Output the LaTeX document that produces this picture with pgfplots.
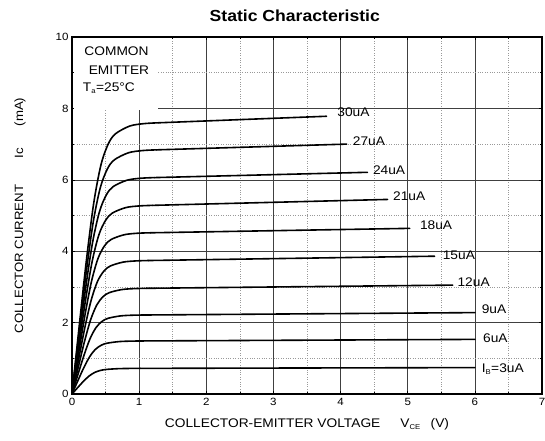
\documentclass[border=0pt]{standalone}
\usepackage{fontspec}
\setmainfont{Liberation Sans}[FakeStretch=1.1]
\usepackage{pgfplots}
\pgfplotsset{compat=1.18}
\begin{document}
\begin{tikzpicture}
\begin{axis}[
  scale only axis, width=470pt, height=357pt,
  xmin=0, xmax=7, ymin=0, ymax=10,
  xtick={0,...,7}, ytick={0,2,...,10},
  minor x tick num=1, minor y tick num=1,
  grid=both,
  major grid style={black!75, line width=0.6pt},
  minor grid style={black!40, dotted, line width=0.6pt},
  axis line style={line width=1.2pt},
  tick align=inside, major tick length=3pt, minor tick length=2pt,
  tick style={black, line width=0.5pt},
  ticklabel style={font=\fontsize{10.5}{12}\selectfont},
  xticklabel style={yshift=-1pt},
  /pgf/number format/assume math mode=true,
  xlabel={COLLECTOR-EMITTER VOLTAGE\hspace{1.6em}V\textsubscript{\fontsize{7}{8}\selectfont CE}\hspace{0.8em}(V)},
  ylabel={COLLECTOR CURRENT\hspace{2.2em}Ic\hspace{1.8em}(mA)},
  x label style={at={(axis description cs:0.5,-0.084)}, anchor=center, font=\fontsize{12.5}{14}\selectfont},
  y label style={at={(axis description cs:-0.1106,0.5)}, anchor=center, font=\fontsize{12}{14}\selectfont},
  cycle list={{black}},
  every axis plot/.append style={black, line width=1.6pt, no marks, line cap=round},
  clip=false,
]
\coordinate (o) at (rel axis cs:0,0);
% Ib = 3uA
\addplot[smooth, tension=0.5] coordinates {(0,0) (0.085,0.18) (0.17,0.355) (0.255,0.504) (0.34,0.606) (0.425,0.661) (0.51,0.688) (0.68,0.709) (0.85,0.716) (1.02,0.718)};
\addplot[black] coordinates {(1.02,0.718) (6.0,0.74)};
% 6uA
\addplot[smooth, tension=0.5] coordinates {(0,0) (0.0875,0.373) (0.175,0.734) (0.2625,1.043) (0.35,1.253) (0.4375,1.368) (0.525,1.424) (0.70,1.468) (0.875,1.481) (1.05,1.486)};
\addplot[black] coordinates {(1.05,1.486) (6.0,1.53)};
% 9uA
\addplot[smooth, tension=0.5] coordinates {(0,0) (0.09,0.555) (0.18,1.093) (0.27,1.554) (0.36,1.867) (0.45,2.038) (0.54,2.122) (0.72,2.187) (0.90,2.207) (1.08,2.213)};
\addplot[black] coordinates {(1.08,2.213) (6.0,2.28)};
% 12uA
\addplot[smooth, tension=0.5] coordinates {(0,0) (0.0925,0.743) (0.185,1.463) (0.2775,2.079) (0.37,2.498) (0.4625,2.726) (0.555,2.839) (0.74,2.925) (0.925,2.952) (1.11,2.961)};
\addplot[black] coordinates {(1.11,2.961) (5.67,3.05)};
% 15uA
\addplot[smooth, tension=0.5] coordinates {(0,0) (0.095,0.938) (0.19,1.847) (0.285,2.625) (0.38,3.154) (0.475,3.443) (0.57,3.585) (0.76,3.694) (0.95,3.728) (1.14,3.739)};
\addplot[black] coordinates {(1.14,3.739) (5.4,3.86)};
% 18uA
\addplot[smooth, tension=0.5] coordinates {(0,0) (0.0975,1.133) (0.195,2.231) (0.2925,3.171) (0.39,3.810) (0.4875,4.159) (0.585,4.331) (0.78,4.462) (0.975,4.503) (1.17,4.516)};
\addplot[black] coordinates {(1.17,4.516) (5.03,4.64)};
% 21uA
\addplot[smooth, tension=0.5] coordinates {(0,0) (0.1,1.325) (0.2,2.610) (0.3,3.710) (0.4,4.457) (0.5,4.865) (0.6,5.067) (0.8,5.221) (1.0,5.268) (1.2,5.284)};
\addplot[black] coordinates {(1.2,5.284) (4.7,5.45)};
% 24uA
\addplot[smooth, tension=0.5] coordinates {(0,0) (0.1025,1.52) (0.205,2.994) (0.3075,4.256) (0.41,5.113) (0.5125,5.581) (0.615,5.812) (0.82,5.989) (1.025,6.044) (1.23,6.062)};
\addplot[black] coordinates {(1.23,6.062) (4.4,6.21)};
% 27uA
\addplot[smooth, tension=0.5] coordinates {(0,0) (0.105,1.715) (0.21,3.379) (0.315,4.802) (0.42,5.769) (0.525,6.297) (0.63,6.558) (0.84,6.757) (1.05,6.819) (1.26,6.839)};
\addplot[black] coordinates {(1.26,6.839) (4.09,7.0)};
% 30uA
\addplot[smooth, tension=0.5] coordinates {(0,0) (0.1075,1.905) (0.215,3.753) (0.3225,5.334) (0.43,6.408) (0.5375,6.995) (0.645,7.285) (0.86,7.506) (1.075,7.574) (1.29,7.597)};
\addplot[black] coordinates {(1.29,7.597) (3.79,7.78)};

% curve labels
\begin{scope}[every node/.style={anchor=west, inner sep=0pt, font=\fontsize{12.5}{14}\selectfont}]
\node at (axis cs:3.95,7.90) {30uA};
\node at (axis cs:4.18,7.09) {27uA};
\node at (axis cs:4.48,6.27) {24uA};
\node at (axis cs:4.78,5.55) {21uA};
\node at (axis cs:5.18,4.73) {18uA};
\node at (axis cs:5.52,3.89) {15uA};
\node at (axis cs:5.74,3.14) {12uA};
\node at (axis cs:6.10,2.38) {9uA};
\node at (axis cs:6.12,1.57) {6uA};
\node at (axis cs:6.10,0.70) {I\textsubscript{\fontsize{7}{8}\selectfont B}=3uA};
\end{scope}

% condition box
\fill[white] (axis cs:0.03,7.96) rectangle (axis cs:1.28,9.96);
\begin{scope}[every node/.style={inner sep=0pt, font=\fontsize{12.5}{14}\selectfont}]
\node at (axis cs:0.663,9.61) {COMMON};
\node at (axis cs:0.70,9.08) {EMITTER};
\node[anchor=west] at (axis cs:0.16,8.57) {T\textsubscript{\fontsize{7}{8}\selectfont a}=25°C};
\end{scope}

\node[font=\fontsize{16}{19}\selectfont\bfseries] at ([yshift=21pt]rel axis cs:0.474,1) {Static Characteristic};
\end{axis}
\pgfresetboundingbox
\path (o) ++(-72pt,-46pt) rectangle ++(545pt,440pt);
\end{tikzpicture}
\end{document}
